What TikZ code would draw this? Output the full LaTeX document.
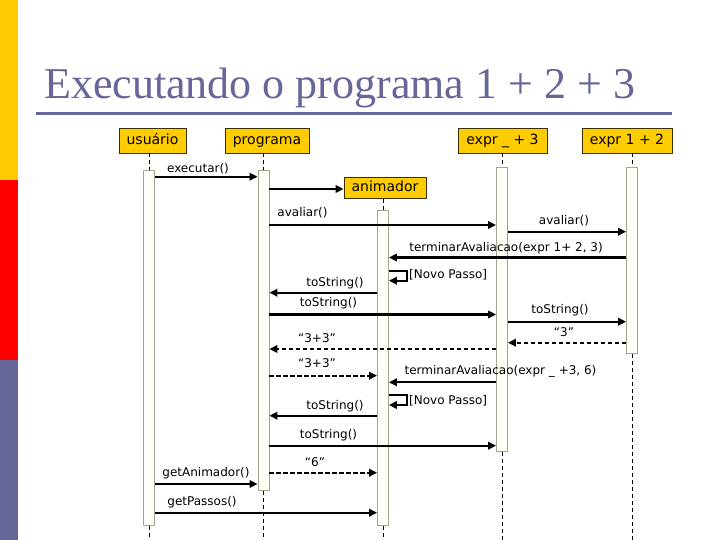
\documentclass[tikz,border=0pt]{standalone}
\usepackage{fontspec}
\setmainfont{Liberation Serif}
\newfontfamily\dvs{DejaVu Sans}
\usetikzlibrary{arrows.meta}
\definecolor{ttl}{HTML}{666699}
\definecolor{gold}{HTML}{FFCC00}
\definecolor{hdrb}{HTML}{3A3000}
\definecolor{actb}{HTML}{A6A48E}
\definecolor{actf}{HTML}{FFFFF7}
\begin{document}
\begin{tikzpicture}[x=1pt,y=-1pt,
 hdr/.style={draw=hdrb, fill=gold, line width=0.9pt, minimum height=25pt, inner sep=0pt, text height=10.5pt, text depth=3pt, font=\dvs\fontsize{14}{16}\selectfont},
 act/.style={draw=actb, fill=actf, line width=0.9pt, minimum width=11pt, inner sep=0pt, anchor=north},
 life/.style={dash pattern=on 4pt off 3pt, line width=1pt},
 msg/.style={line width=2.2pt, -{Triangle[length=8pt,width=7.5pt]}},
 ret/.style={msg, dash pattern=on 4.5pt off 2.5pt},
 lbl/.style={font=\dvs\fontsize{12}{14}\selectfont, inner sep=0pt},
]
\useasboundingbox (0,0) rectangle (720,540);
\fill[white] (0,0) rectangle (720,540);
% left colour bar
\fill[gold] (0,0) rectangle (18,180);
\fill[red] (0,180) rectangle (18,360);
\fill[ttl] (0,360) rectangle (18,540);
% title
\node[anchor=base west, inner sep=0pt, text=ttl, font=\fontsize{44}{48}\selectfont] (title) at (44,99) {Executando o programa 1 + 2 + 3};
\draw[ttl, line width=3pt] (36,113.5) -- (672,113.5);

% headers
\node[hdr, minimum width=67pt] (hU) at (152.5,140.5) {usuário};
\node[hdr, minimum width=84pt] (hP) at (267,140.5) {programa};
\node[hdr, minimum width=89pt] (hE3) at (502.5,140.5) {expr \_ + 3};
\node[hdr, minimum width=90pt] (hE12) at (627,140.5) {expr 1 + 2};
\node[hdr, minimum width=82pt, minimum height=20.5pt] (hA) at (385,188) {animador};

% bottom coordinates
\coordinate (bU) at (149,540);
\coordinate (bP) at (263.5,540);
\coordinate (bA) at (383,540);
\coordinate (bE3) at (502,540);
\coordinate (bE12) at (632,540);

% activation boxes
\node[act, minimum height=355pt] (actU) at (149,170) {};
\node[act, minimum height=320pt] (actP) at (263.5,170) {};
\node[act, minimum height=315pt] (actA) at (383,210) {};
\node[act, minimum height=284pt] (actE3) at (502,167) {};
\node[act, minimum height=186pt] (actE12) at (632,167) {};

% lifelines
\draw[life] (actU.north |- hU.south) -- (actU.north);
\draw[life] (actP.north |- hP.south) -- (actP.north);
\draw[life] (actA.north |- hA.south) -- (actA.north);
\draw[life] (actE3.north |- hE3.south) -- (actE3.north);
\draw[life] (actE12.north |- hE12.south) -- (actE12.north);
\draw[life] (actU.south) -- (bU);
\draw[life] (actP.south) -- (bP);
\draw[life] (actA.south) -- (bA);
\draw[life] (actE3.south) -- (bE3);
\draw[life] (actE12.south) -- (bE12);

% messages
\draw[msg] (actU.east |- 0,176.7) -- (actP.west |- 0,176.7);
\node[lbl] (l1) at (198,169) {executar()};
\draw[msg] (actP.east |- 0,189) -- (hA.west |- 0,189);
\draw[msg] (actP.east |- 0,225) -- (actE3.west |- 0,225);
\node[lbl] (l2) at (302.5,213) {avaliar()};
\draw[msg] (actE3.east |- 0,231.7) -- (actE12.west |- 0,231.7);
\node[lbl] (l3) at (564,221) {avaliar()};
\draw[msg] (actE12.west |- 0,257.5) -- (actA.east |- 0,257.5);
\node[lbl] (l4) at (506,248) {terminarAvaliacao(expr 1+ 2, 3)};
\draw[msg] (actA.east |- 0,270.7) -- ++(18,0) -- ++(0,10) -- (actA.east |- 0,280.7);
\node[lbl, anchor=west] (l5) at (409,275) {[Novo Passo]};
\draw[msg] (actA.west |- 0,292.7) -- (actP.east |- 0,292.7);
\node[lbl] (l6) at (335,282.7) {toString()};
\draw[msg] (actP.east |- 0,314.5) -- (actE3.west |- 0,314.5);
\node[lbl] (l7) at (328.5,303) {toString()};
\draw[msg] (actE3.east |- 0,321.7) -- (actE12.west |- 0,321.7);
\node[lbl] (l8) at (560,310) {toString()};
\draw[ret] (actE12.west |- 0,342.7) -- (actE3.east |- 0,342.7);
\node[lbl] (l9) at (564,331.7) {“3”};
\draw[ret] (actE3.west |- 0,349) -- (actP.east |- 0,349);
\node[lbl] (l10) at (317,338) {“3+3”};
\draw[ret] (actP.east |- 0,375.7) -- (actA.west |- 0,375.7);
\node[lbl] (l11) at (317,363) {“3+3”};
\draw[msg] (actE3.west |- 0,382.3) -- (actA.east |- 0,382.3);
\node[lbl] (l12) at (500.5,371.7) {terminarAvaliacao(expr \_ +3, 6)};
\draw[msg] (actA.east |- 0,395) -- ++(18,0) -- ++(0,10) -- (actA.east |- 0,405);
\node[lbl, anchor=west] (l13) at (409,400.7) {[Novo Passo]};
\draw[msg] (actA.west |- 0,415.7) -- (actP.east |- 0,415.7);
\node[lbl] (l14) at (335,405.7) {toString()};
\draw[msg] (actP.east |- 0,445.7) -- (actE3.west |- 0,445.7);
\node[lbl] (l15) at (328.5,435) {toString()};
\draw[ret] (actP.east |- 0,472.7) -- (actA.west |- 0,472.7);
\node[lbl] (l16) at (315,461.7) {“6”};
\draw[msg] (actU.east |- 0,484) -- (actP.west |- 0,484);
\node[lbl] (l17) at (206,473.3) {getAnimador()};
\draw[msg] (actU.east |- 0,512.7) -- (actA.west |- 0,512.7);
\node[lbl] (l18) at (202,501.7) {getPassos()};
\end{tikzpicture}
\end{document}
